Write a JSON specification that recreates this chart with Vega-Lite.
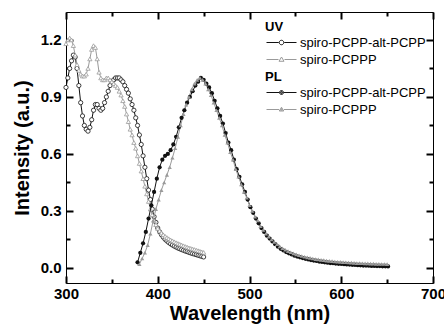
{
"$schema": "https://vega.github.io/schema/vega-lite/v6.json",
"width": 367, "height": 271,
"autosize": {"type": "none"},
"padding": {"left": 66, "top": 12, "right": 11, "bottom": 44},
"background": "white",
"config": {"view": {"stroke": "#000", "strokeWidth": 1}, "font": "Liberation Sans"},
"datasets": {
"uv": [
{"s":"spiro-PCPP-alt-PCPP","w":300,"v":0.95},{"s":"spiro-PCPP-alt-PCPP","w":302,"v":1.0},{"s":"spiro-PCPP-alt-PCPP","w":304,"v":1.05},{"s":"spiro-PCPP-alt-PCPP","w":306,"v":1.09},{"s":"spiro-PCPP-alt-PCPP","w":308,"v":1.12},{"s":"spiro-PCPP-alt-PCPP","w":310,"v":1.11},{"s":"spiro-PCPP-alt-PCPP","w":312,"v":1.05},{"s":"spiro-PCPP-alt-PCPP","w":314,"v":0.96},{"s":"spiro-PCPP-alt-PCPP","w":316,"v":0.87},{"s":"spiro-PCPP-alt-PCPP","w":318,"v":0.8},{"s":"spiro-PCPP-alt-PCPP","w":320,"v":0.75},{"s":"spiro-PCPP-alt-PCPP","w":322,"v":0.73},{"s":"spiro-PCPP-alt-PCPP","w":324,"v":0.72},{"s":"spiro-PCPP-alt-PCPP","w":326,"v":0.74},{"s":"spiro-PCPP-alt-PCPP","w":328,"v":0.78},{"s":"spiro-PCPP-alt-PCPP","w":330,"v":0.83},{"s":"spiro-PCPP-alt-PCPP","w":332,"v":0.86},{"s":"spiro-PCPP-alt-PCPP","w":334,"v":0.86},{"s":"spiro-PCPP-alt-PCPP","w":336,"v":0.84},{"s":"spiro-PCPP-alt-PCPP","w":338,"v":0.83},{"s":"spiro-PCPP-alt-PCPP","w":340,"v":0.84},{"s":"spiro-PCPP-alt-PCPP","w":342,"v":0.87},{"s":"spiro-PCPP-alt-PCPP","w":344,"v":0.9},{"s":"spiro-PCPP-alt-PCPP","w":346,"v":0.93},{"s":"spiro-PCPP-alt-PCPP","w":348,"v":0.96},{"s":"spiro-PCPP-alt-PCPP","w":350,"v":0.98},{"s":"spiro-PCPP-alt-PCPP","w":352,"v":0.99},{"s":"spiro-PCPP-alt-PCPP","w":354,"v":1.0},{"s":"spiro-PCPP-alt-PCPP","w":356,"v":1.0},{"s":"spiro-PCPP-alt-PCPP","w":358,"v":1.0},{"s":"spiro-PCPP-alt-PCPP","w":360,"v":0.99},{"s":"spiro-PCPP-alt-PCPP","w":362,"v":0.98},{"s":"spiro-PCPP-alt-PCPP","w":364,"v":0.96},{"s":"spiro-PCPP-alt-PCPP","w":366,"v":0.94},{"s":"spiro-PCPP-alt-PCPP","w":368,"v":0.92},{"s":"spiro-PCPP-alt-PCPP","w":370,"v":0.89},{"s":"spiro-PCPP-alt-PCPP","w":372,"v":0.86},{"s":"spiro-PCPP-alt-PCPP","w":374,"v":0.83},{"s":"spiro-PCPP-alt-PCPP","w":376,"v":0.79},{"s":"spiro-PCPP-alt-PCPP","w":378,"v":0.75},{"s":"spiro-PCPP-alt-PCPP","w":380,"v":0.7},{"s":"spiro-PCPP-alt-PCPP","w":382,"v":0.65},{"s":"spiro-PCPP-alt-PCPP","w":384,"v":0.59},{"s":"spiro-PCPP-alt-PCPP","w":386,"v":0.53},{"s":"spiro-PCPP-alt-PCPP","w":388,"v":0.47},{"s":"spiro-PCPP-alt-PCPP","w":390,"v":0.41},{"s":"spiro-PCPP-alt-PCPP","w":392,"v":0.36},{"s":"spiro-PCPP-alt-PCPP","w":394,"v":0.31},{"s":"spiro-PCPP-alt-PCPP","w":396,"v":0.27},{"s":"spiro-PCPP-alt-PCPP","w":398,"v":0.24},{"s":"spiro-PCPP-alt-PCPP","w":400,"v":0.21},{"s":"spiro-PCPP-alt-PCPP","w":402,"v":0.19},{"s":"spiro-PCPP-alt-PCPP","w":404,"v":0.175},{"s":"spiro-PCPP-alt-PCPP","w":406,"v":0.162},{"s":"spiro-PCPP-alt-PCPP","w":408,"v":0.151},{"s":"spiro-PCPP-alt-PCPP","w":410,"v":0.142},{"s":"spiro-PCPP-alt-PCPP","w":412,"v":0.134},{"s":"spiro-PCPP-alt-PCPP","w":414,"v":0.127},{"s":"spiro-PCPP-alt-PCPP","w":416,"v":0.121},{"s":"spiro-PCPP-alt-PCPP","w":418,"v":0.115},{"s":"spiro-PCPP-alt-PCPP","w":420,"v":0.11},{"s":"spiro-PCPP-alt-PCPP","w":422,"v":0.105},{"s":"spiro-PCPP-alt-PCPP","w":424,"v":0.101},{"s":"spiro-PCPP-alt-PCPP","w":426,"v":0.097},{"s":"spiro-PCPP-alt-PCPP","w":428,"v":0.093},{"s":"spiro-PCPP-alt-PCPP","w":430,"v":0.089},{"s":"spiro-PCPP-alt-PCPP","w":432,"v":0.086},{"s":"spiro-PCPP-alt-PCPP","w":434,"v":0.082},{"s":"spiro-PCPP-alt-PCPP","w":436,"v":0.079},{"s":"spiro-PCPP-alt-PCPP","w":438,"v":0.076},{"s":"spiro-PCPP-alt-PCPP","w":440,"v":0.073},{"s":"spiro-PCPP-alt-PCPP","w":442,"v":0.07},{"s":"spiro-PCPP-alt-PCPP","w":444,"v":0.067},{"s":"spiro-PCPP-alt-PCPP","w":446,"v":0.064},{"s":"spiro-PCPP-alt-PCPP","w":448,"v":0.061},{"s":"spiro-PCPP-alt-PCPP","w":450,"v":0.058},
{"s":"spiro-PCPPP","w":300,"v":1.18},{"s":"spiro-PCPPP","w":302,"v":1.2},{"s":"spiro-PCPPP","w":304,"v":1.21},{"s":"spiro-PCPPP","w":306,"v":1.2},{"s":"spiro-PCPPP","w":308,"v":1.17},{"s":"spiro-PCPPP","w":310,"v":1.12},{"s":"spiro-PCPPP","w":312,"v":1.07},{"s":"spiro-PCPPP","w":314,"v":1.04},{"s":"spiro-PCPPP","w":316,"v":1.02},{"s":"spiro-PCPPP","w":318,"v":1.01},{"s":"spiro-PCPPP","w":320,"v":1.01},{"s":"spiro-PCPPP","w":322,"v":1.02},{"s":"spiro-PCPPP","w":324,"v":1.05},{"s":"spiro-PCPPP","w":326,"v":1.1},{"s":"spiro-PCPPP","w":328,"v":1.15},{"s":"spiro-PCPPP","w":330,"v":1.17},{"s":"spiro-PCPPP","w":332,"v":1.16},{"s":"spiro-PCPPP","w":334,"v":1.1},{"s":"spiro-PCPPP","w":336,"v":1.03},{"s":"spiro-PCPPP","w":338,"v":1.0},{"s":"spiro-PCPPP","w":340,"v":0.99},{"s":"spiro-PCPPP","w":342,"v":0.99},{"s":"spiro-PCPPP","w":344,"v":1.0},{"s":"spiro-PCPPP","w":346,"v":1.0},{"s":"spiro-PCPPP","w":348,"v":0.99},{"s":"spiro-PCPPP","w":350,"v":0.98},{"s":"spiro-PCPPP","w":352,"v":0.97},{"s":"spiro-PCPPP","w":354,"v":0.96},{"s":"spiro-PCPPP","w":356,"v":0.95},{"s":"spiro-PCPPP","w":358,"v":0.93},{"s":"spiro-PCPPP","w":360,"v":0.91},{"s":"spiro-PCPPP","w":362,"v":0.88},{"s":"spiro-PCPPP","w":364,"v":0.85},{"s":"spiro-PCPPP","w":366,"v":0.81},{"s":"spiro-PCPPP","w":368,"v":0.77},{"s":"spiro-PCPPP","w":370,"v":0.73},{"s":"spiro-PCPPP","w":372,"v":0.7},{"s":"spiro-PCPPP","w":374,"v":0.66},{"s":"spiro-PCPPP","w":376,"v":0.63},{"s":"spiro-PCPPP","w":378,"v":0.59},{"s":"spiro-PCPPP","w":380,"v":0.55},{"s":"spiro-PCPPP","w":382,"v":0.51},{"s":"spiro-PCPPP","w":384,"v":0.47},{"s":"spiro-PCPPP","w":386,"v":0.43},{"s":"spiro-PCPPP","w":388,"v":0.39},{"s":"spiro-PCPPP","w":390,"v":0.35},{"s":"spiro-PCPPP","w":392,"v":0.31},{"s":"spiro-PCPPP","w":394,"v":0.28},{"s":"spiro-PCPPP","w":396,"v":0.25},{"s":"spiro-PCPPP","w":398,"v":0.228},{"s":"spiro-PCPPP","w":400,"v":0.208},{"s":"spiro-PCPPP","w":402,"v":0.195},{"s":"spiro-PCPPP","w":404,"v":0.184},{"s":"spiro-PCPPP","w":406,"v":0.175},{"s":"spiro-PCPPP","w":408,"v":0.167},{"s":"spiro-PCPPP","w":410,"v":0.16},{"s":"spiro-PCPPP","w":412,"v":0.154},{"s":"spiro-PCPPP","w":414,"v":0.148},{"s":"spiro-PCPPP","w":416,"v":0.143},{"s":"spiro-PCPPP","w":418,"v":0.138},{"s":"spiro-PCPPP","w":420,"v":0.133},{"s":"spiro-PCPPP","w":422,"v":0.129},{"s":"spiro-PCPPP","w":424,"v":0.125},{"s":"spiro-PCPPP","w":426,"v":0.121},{"s":"spiro-PCPPP","w":428,"v":0.117},{"s":"spiro-PCPPP","w":430,"v":0.113},{"s":"spiro-PCPPP","w":432,"v":0.11},{"s":"spiro-PCPPP","w":434,"v":0.106},{"s":"spiro-PCPPP","w":436,"v":0.103},{"s":"spiro-PCPPP","w":438,"v":0.1},{"s":"spiro-PCPPP","w":440,"v":0.097},{"s":"spiro-PCPPP","w":442,"v":0.094},{"s":"spiro-PCPPP","w":444,"v":0.091},{"s":"spiro-PCPPP","w":446,"v":0.088},{"s":"spiro-PCPPP","w":448,"v":0.085},{"s":"spiro-PCPPP","w":450,"v":0.082}
],
"pl": [
{"s":"spiro-PCPP-alt-PCPP","w":378,"v":0.03},{"s":"spiro-PCPP-alt-PCPP","w":381,"v":0.08},{"s":"spiro-PCPP-alt-PCPP","w":384,"v":0.13},{"s":"spiro-PCPP-alt-PCPP","w":387,"v":0.19},{"s":"spiro-PCPP-alt-PCPP","w":390,"v":0.26},{"s":"spiro-PCPP-alt-PCPP","w":393,"v":0.33},{"s":"spiro-PCPP-alt-PCPP","w":396,"v":0.4},{"s":"spiro-PCPP-alt-PCPP","w":399,"v":0.47},{"s":"spiro-PCPP-alt-PCPP","w":402,"v":0.53},{"s":"spiro-PCPP-alt-PCPP","w":405,"v":0.57},{"s":"spiro-PCPP-alt-PCPP","w":408,"v":0.59},{"s":"spiro-PCPP-alt-PCPP","w":411,"v":0.6},{"s":"spiro-PCPP-alt-PCPP","w":414,"v":0.62},{"s":"spiro-PCPP-alt-PCPP","w":417,"v":0.65},{"s":"spiro-PCPP-alt-PCPP","w":420,"v":0.69},{"s":"spiro-PCPP-alt-PCPP","w":423,"v":0.74},{"s":"spiro-PCPP-alt-PCPP","w":426,"v":0.79},{"s":"spiro-PCPP-alt-PCPP","w":429,"v":0.83},{"s":"spiro-PCPP-alt-PCPP","w":432,"v":0.87},{"s":"spiro-PCPP-alt-PCPP","w":435,"v":0.9},{"s":"spiro-PCPP-alt-PCPP","w":438,"v":0.93},{"s":"spiro-PCPP-alt-PCPP","w":441,"v":0.96},{"s":"spiro-PCPP-alt-PCPP","w":444,"v":0.98},{"s":"spiro-PCPP-alt-PCPP","w":447,"v":1.0},{"s":"spiro-PCPP-alt-PCPP","w":450,"v":0.99},{"s":"spiro-PCPP-alt-PCPP","w":453,"v":0.97},{"s":"spiro-PCPP-alt-PCPP","w":456,"v":0.95},{"s":"spiro-PCPP-alt-PCPP","w":459,"v":0.92},{"s":"spiro-PCPP-alt-PCPP","w":462,"v":0.88},{"s":"spiro-PCPP-alt-PCPP","w":465,"v":0.84},{"s":"spiro-PCPP-alt-PCPP","w":468,"v":0.8},{"s":"spiro-PCPP-alt-PCPP","w":471,"v":0.76},{"s":"spiro-PCPP-alt-PCPP","w":474,"v":0.71},{"s":"spiro-PCPP-alt-PCPP","w":477,"v":0.66},{"s":"spiro-PCPP-alt-PCPP","w":480,"v":0.62},{"s":"spiro-PCPP-alt-PCPP","w":483,"v":0.57},{"s":"spiro-PCPP-alt-PCPP","w":486,"v":0.52},{"s":"spiro-PCPP-alt-PCPP","w":489,"v":0.48},{"s":"spiro-PCPP-alt-PCPP","w":492,"v":0.44},{"s":"spiro-PCPP-alt-PCPP","w":495,"v":0.4},{"s":"spiro-PCPP-alt-PCPP","w":498,"v":0.36},{"s":"spiro-PCPP-alt-PCPP","w":501,"v":0.32},{"s":"spiro-PCPP-alt-PCPP","w":504,"v":0.29},{"s":"spiro-PCPP-alt-PCPP","w":507,"v":0.26},{"s":"spiro-PCPP-alt-PCPP","w":510,"v":0.235},{"s":"spiro-PCPP-alt-PCPP","w":513,"v":0.21},{"s":"spiro-PCPP-alt-PCPP","w":516,"v":0.19},{"s":"spiro-PCPP-alt-PCPP","w":519,"v":0.17},{"s":"spiro-PCPP-alt-PCPP","w":522,"v":0.155},{"s":"spiro-PCPP-alt-PCPP","w":525,"v":0.14},{"s":"spiro-PCPP-alt-PCPP","w":528,"v":0.125},{"s":"spiro-PCPP-alt-PCPP","w":531,"v":0.112},{"s":"spiro-PCPP-alt-PCPP","w":534,"v":0.101},{"s":"spiro-PCPP-alt-PCPP","w":537,"v":0.092},{"s":"spiro-PCPP-alt-PCPP","w":540,"v":0.084},{"s":"spiro-PCPP-alt-PCPP","w":543,"v":0.077},{"s":"spiro-PCPP-alt-PCPP","w":546,"v":0.071},{"s":"spiro-PCPP-alt-PCPP","w":549,"v":0.065},{"s":"spiro-PCPP-alt-PCPP","w":552,"v":0.06},{"s":"spiro-PCPP-alt-PCPP","w":555,"v":0.056},{"s":"spiro-PCPP-alt-PCPP","w":558,"v":0.052},{"s":"spiro-PCPP-alt-PCPP","w":561,"v":0.048},{"s":"spiro-PCPP-alt-PCPP","w":564,"v":0.045},{"s":"spiro-PCPP-alt-PCPP","w":567,"v":0.042},{"s":"spiro-PCPP-alt-PCPP","w":570,"v":0.039},{"s":"spiro-PCPP-alt-PCPP","w":573,"v":0.037},{"s":"spiro-PCPP-alt-PCPP","w":576,"v":0.034},{"s":"spiro-PCPP-alt-PCPP","w":579,"v":0.032},{"s":"spiro-PCPP-alt-PCPP","w":582,"v":0.03},{"s":"spiro-PCPP-alt-PCPP","w":585,"v":0.028},{"s":"spiro-PCPP-alt-PCPP","w":588,"v":0.026},{"s":"spiro-PCPP-alt-PCPP","w":591,"v":0.025},{"s":"spiro-PCPP-alt-PCPP","w":594,"v":0.023},{"s":"spiro-PCPP-alt-PCPP","w":597,"v":0.022},{"s":"spiro-PCPP-alt-PCPP","w":600,"v":0.021},{"s":"spiro-PCPP-alt-PCPP","w":603,"v":0.02},{"s":"spiro-PCPP-alt-PCPP","w":606,"v":0.019},{"s":"spiro-PCPP-alt-PCPP","w":609,"v":0.018},{"s":"spiro-PCPP-alt-PCPP","w":612,"v":0.017},{"s":"spiro-PCPP-alt-PCPP","w":615,"v":0.016},{"s":"spiro-PCPP-alt-PCPP","w":618,"v":0.015},{"s":"spiro-PCPP-alt-PCPP","w":621,"v":0.014},{"s":"spiro-PCPP-alt-PCPP","w":624,"v":0.013},{"s":"spiro-PCPP-alt-PCPP","w":627,"v":0.013},{"s":"spiro-PCPP-alt-PCPP","w":630,"v":0.012},{"s":"spiro-PCPP-alt-PCPP","w":633,"v":0.011},{"s":"spiro-PCPP-alt-PCPP","w":636,"v":0.011},{"s":"spiro-PCPP-alt-PCPP","w":639,"v":0.01},{"s":"spiro-PCPP-alt-PCPP","w":642,"v":0.01},{"s":"spiro-PCPP-alt-PCPP","w":645,"v":0.009},{"s":"spiro-PCPP-alt-PCPP","w":648,"v":0.009},{"s":"spiro-PCPP-alt-PCPP","w":651,"v":0.008},
{"s":"spiro-PCPPP","w":380,"v":0.02},{"s":"spiro-PCPPP","w":383,"v":0.05},{"s":"spiro-PCPPP","w":386,"v":0.08},{"s":"spiro-PCPPP","w":389,"v":0.12},{"s":"spiro-PCPPP","w":392,"v":0.18},{"s":"spiro-PCPPP","w":395,"v":0.25},{"s":"spiro-PCPPP","w":398,"v":0.31},{"s":"spiro-PCPPP","w":401,"v":0.36},{"s":"spiro-PCPPP","w":404,"v":0.41},{"s":"spiro-PCPPP","w":407,"v":0.45},{"s":"spiro-PCPPP","w":410,"v":0.49},{"s":"spiro-PCPPP","w":413,"v":0.53},{"s":"spiro-PCPPP","w":416,"v":0.58},{"s":"spiro-PCPPP","w":419,"v":0.63},{"s":"spiro-PCPPP","w":422,"v":0.69},{"s":"spiro-PCPPP","w":425,"v":0.75},{"s":"spiro-PCPPP","w":428,"v":0.81},{"s":"spiro-PCPPP","w":431,"v":0.86},{"s":"spiro-PCPPP","w":434,"v":0.9},{"s":"spiro-PCPPP","w":437,"v":0.94},{"s":"spiro-PCPPP","w":440,"v":0.97},{"s":"spiro-PCPPP","w":443,"v":0.99},{"s":"spiro-PCPPP","w":446,"v":1.0},{"s":"spiro-PCPPP","w":449,"v":0.99},{"s":"spiro-PCPPP","w":452,"v":0.97},{"s":"spiro-PCPPP","w":455,"v":0.94},{"s":"spiro-PCPPP","w":458,"v":0.91},{"s":"spiro-PCPPP","w":461,"v":0.87},{"s":"spiro-PCPPP","w":464,"v":0.83},{"s":"spiro-PCPPP","w":467,"v":0.79},{"s":"spiro-PCPPP","w":470,"v":0.75},{"s":"spiro-PCPPP","w":473,"v":0.7},{"s":"spiro-PCPPP","w":476,"v":0.66},{"s":"spiro-PCPPP","w":479,"v":0.61},{"s":"spiro-PCPPP","w":482,"v":0.57},{"s":"spiro-PCPPP","w":485,"v":0.52},{"s":"spiro-PCPPP","w":488,"v":0.48},{"s":"spiro-PCPPP","w":491,"v":0.44},{"s":"spiro-PCPPP","w":494,"v":0.4},{"s":"spiro-PCPPP","w":497,"v":0.37},{"s":"spiro-PCPPP","w":500,"v":0.33},{"s":"spiro-PCPPP","w":503,"v":0.3},{"s":"spiro-PCPPP","w":506,"v":0.27},{"s":"spiro-PCPPP","w":509,"v":0.25},{"s":"spiro-PCPPP","w":512,"v":0.22},{"s":"spiro-PCPPP","w":515,"v":0.2},{"s":"spiro-PCPPP","w":518,"v":0.18},{"s":"spiro-PCPPP","w":521,"v":0.165},{"s":"spiro-PCPPP","w":524,"v":0.15},{"s":"spiro-PCPPP","w":527,"v":0.137},{"s":"spiro-PCPPP","w":530,"v":0.125},{"s":"spiro-PCPPP","w":533,"v":0.114},{"s":"spiro-PCPPP","w":536,"v":0.104},{"s":"spiro-PCPPP","w":539,"v":0.096},{"s":"spiro-PCPPP","w":542,"v":0.089},{"s":"spiro-PCPPP","w":545,"v":0.083},{"s":"spiro-PCPPP","w":548,"v":0.077},{"s":"spiro-PCPPP","w":551,"v":0.072},{"s":"spiro-PCPPP","w":554,"v":0.067},{"s":"spiro-PCPPP","w":557,"v":0.063},{"s":"spiro-PCPPP","w":560,"v":0.059},{"s":"spiro-PCPPP","w":563,"v":0.056},{"s":"spiro-PCPPP","w":566,"v":0.053},{"s":"spiro-PCPPP","w":569,"v":0.05},{"s":"spiro-PCPPP","w":572,"v":0.047},{"s":"spiro-PCPPP","w":575,"v":0.045},{"s":"spiro-PCPPP","w":578,"v":0.043},{"s":"spiro-PCPPP","w":581,"v":0.041},{"s":"spiro-PCPPP","w":584,"v":0.039},{"s":"spiro-PCPPP","w":587,"v":0.037},{"s":"spiro-PCPPP","w":590,"v":0.036},{"s":"spiro-PCPPP","w":593,"v":0.034},{"s":"spiro-PCPPP","w":596,"v":0.033},{"s":"spiro-PCPPP","w":599,"v":0.032},{"s":"spiro-PCPPP","w":602,"v":0.031},{"s":"spiro-PCPPP","w":605,"v":0.03},{"s":"spiro-PCPPP","w":608,"v":0.029},{"s":"spiro-PCPPP","w":611,"v":0.028},{"s":"spiro-PCPPP","w":614,"v":0.027},{"s":"spiro-PCPPP","w":617,"v":0.026},{"s":"spiro-PCPPP","w":620,"v":0.026},{"s":"spiro-PCPPP","w":623,"v":0.025},{"s":"spiro-PCPPP","w":626,"v":0.024},{"s":"spiro-PCPPP","w":629,"v":0.024},{"s":"spiro-PCPPP","w":632,"v":0.023},{"s":"spiro-PCPPP","w":635,"v":0.023},{"s":"spiro-PCPPP","w":638,"v":0.022},{"s":"spiro-PCPPP","w":641,"v":0.022},{"s":"spiro-PCPPP","w":644,"v":0.021},{"s":"spiro-PCPPP","w":647,"v":0.021},{"s":"spiro-PCPPP","w":650,"v":0.02}
]
},
"layer": [
{
"data": {"name": "uv"},
"encoding": {
"x": {"field": "w", "type": "quantitative", "scale": {"domain": [300, 700], "nice": false, "zero": false},
 "axis": {"orient": "bottom", "values": [300,400,500,600,700], "offset": -7, "tickSize": 7, "tickWidth": 2, "tickColor": "black", "domain": false, "grid": false, "labelFont": "Liberation Sans", "labelFontSize": 15, "labelFontWeight": "bold", "labelColor": "#000", "labelPadding": 3, "labelFlush": false, "labelOverlap": false, "title": "Wavelength (nm)", "titleFont": "Liberation Sans", "titleFontSize": 20, "titleFontWeight": "bold", "titleColor": "#000", "titlePadding": 2}},
"y": {"field": "v", "type": "quantitative", "scale": {"domain": [-0.079, 1.347], "nice": false, "zero": false},
 "axis": {"orient": "left", "values": [0,0.3,0.6,0.9,1.2], "format": ".1f", "offset": -7, "tickSize": 7, "tickWidth": 2, "tickColor": "black", "domain": false, "grid": false, "labelFont": "Liberation Sans", "labelFontSize": 15, "labelFontWeight": "bold", "labelColor": "#000", "labelPadding": 5, "labelFlush": false, "labelOverlap": false, "title": "Intensity (a.u.)", "titleFont": "Liberation Sans", "titleFontSize": 20, "titleFontWeight": "bold", "titleColor": "#000", "titlePadding": 8}},
"color": {"field": "s", "type": "nominal", "scale": {"domain": ["spiro-PCPP-alt-PCPP", "spiro-PCPPP"], "range": ["#111111", "#9a9a9a"]}, "legend": null}
},
"layer": [
{"mark": {"type": "line", "strokeWidth": 1}},
{"mark": {"type": "point", "filled": false, "fill": "white", "size": 18, "strokeWidth": 0.8, "opacity": 1},
 "encoding": {"shape": {"field": "s", "type": "nominal", "scale": {"domain": ["spiro-PCPP-alt-PCPP", "spiro-PCPPP"], "range": ["circle", "triangle-up"]}, "legend": null}}}
]
},
{
"data": {"name": "pl"},
"encoding": {
"x": {"field": "w", "type": "quantitative", "scale": {"domain": [300, 700], "nice": false, "zero": false},
 "axis": {"orient": "top", "values": [300,400,500,600,700], "labels": false, "offset": -7, "tickSize": 7, "tickWidth": 2, "tickColor": "black", "domain": false, "grid": false, "title": null}},
"y": {"field": "v", "type": "quantitative", "scale": {"domain": [-0.079, 1.347], "nice": false, "zero": false},
 "axis": {"orient": "right", "values": [0,0.3,0.6,0.9,1.2], "labels": false, "offset": -7, "tickSize": 7, "tickWidth": 2, "tickColor": "black", "domain": false, "grid": false, "title": null}},
"color": {"field": "s", "type": "nominal", "scale": {"domain": ["spiro-PCPP-alt-PCPP", "spiro-PCPPP"], "range": ["#111111", "#9a9a9a"]}, "legend": null}
},
"layer": [
{"mark": {"type": "line", "strokeWidth": 1}},
{"mark": {"type": "point", "filled": true, "size": 18, "opacity": 1},
 "encoding": {"shape": {"field": "s", "type": "nominal", "scale": {"domain": ["spiro-PCPP-alt-PCPP", "spiro-PCPPP"], "range": ["circle", "triangle-up"]}, "legend": null}}}
]
},
{
"data": {"name": "uv"},
"transform": [{"filter": "false"}],
"mark": {"type": "point", "filled": false, "fill": "white", "size": 100, "strokeWidth": 1, "opacity": 1},
"encoding": {
"x": {"field": "w", "type": "quantitative", "scale": {"domain": [300, 700], "nice": false, "zero": false},
 "axis": {"orient": "bottom", "values": [350,450,550,650], "labels": false, "offset": -4, "tickSize": 4, "tickWidth": 2, "tickColor": "black", "domain": false, "grid": false, "title": null}},
"y": {"field": "v", "type": "quantitative", "scale": {"domain": [-0.079, 1.347], "nice": false, "zero": false},
 "axis": {"orient": "left", "values": [0.15,0.45,0.75,1.05], "labels": false, "offset": -4, "tickSize": 4, "tickWidth": 2, "tickColor": "black", "domain": false, "grid": false, "title": null}},
"color": {"field": "s", "type": "nominal", "scale": {"domain": ["spiro-PCPP-alt-PCPP", "spiro-PCPPP"], "range": ["#111111", "#9a9a9a"]},
 "legend": {"orient": "none", "legendX": 199, "legendY": 9, "title": "UV", "titleFont": "Liberation Sans", "titleFontSize": 13, "titleFontWeight": "bold", "titleColor": "#000", "titlePadding": 2, "labelFont": "Liberation Sans", "labelFontSize": 13, "labelColor": "#000", "labelOffset": 12, "symbolOffset": 10, "symbolSize": 100, "symbolStrokeWidth": 1, "rowPadding": 3, "padding": 0}},
"shape": {"field": "s", "type": "nominal", "scale": {"domain": ["spiro-PCPP-alt-PCPP", "spiro-PCPPP"], "range": ["M-3,0H-0.55M0.55,0H3M-0.45,0A0.45,0.45,0,1,1,0.45,0A0.45,0.45,0,1,1,-0.45,0Z", "M-3,0H-0.6M0.6,0H3M0,-0.5L0.5,0.35L-0.5,0.35Z"]},
 "legend": {"orient": "none", "legendX": 199, "legendY": 9, "title": "UV", "titleFont": "Liberation Sans", "titleFontSize": 13, "titleFontWeight": "bold", "titleColor": "#000", "titlePadding": 2, "labelFont": "Liberation Sans", "labelFontSize": 13, "labelColor": "#000", "labelOffset": 12, "symbolOffset": 10, "symbolSize": 100, "symbolStrokeWidth": 1, "rowPadding": 3, "padding": 0}}
}
},
{
"data": {"name": "pl"},
"transform": [{"filter": "false"}],
"mark": {"type": "point", "filled": false, "fill": "transparent", "size": 100, "strokeWidth": 1, "opacity": 1},
"encoding": {
"x": {"field": "w", "type": "quantitative", "scale": {"domain": [300, 700], "nice": false, "zero": false},
 "axis": {"orient": "top", "values": [350,450,550,650], "labels": false, "offset": -4, "tickSize": 4, "tickWidth": 2, "tickColor": "black", "domain": false, "grid": false, "title": null}},
"y": {"field": "v", "type": "quantitative", "scale": {"domain": [-0.079, 1.347], "nice": false, "zero": false},
 "axis": {"orient": "right", "values": [0.15,0.45,0.75,1.05], "labels": false, "offset": -4, "tickSize": 4, "tickWidth": 2, "tickColor": "black", "domain": false, "grid": false, "title": null}},
"color": {"field": "s", "type": "nominal", "scale": {"domain": ["spiro-PCPP-alt-PCPP", "spiro-PCPPP"], "range": ["#111111", "#9a9a9a"]},
 "legend": {"orient": "none", "legendX": 199, "legendY": 59, "title": "PL", "titleFont": "Liberation Sans", "titleFontSize": 13, "titleFontWeight": "bold", "titleColor": "#000", "titlePadding": 2, "labelFont": "Liberation Sans", "labelFontSize": 13, "labelColor": "#000", "labelOffset": 12, "symbolOffset": 10, "symbolSize": 100, "symbolStrokeWidth": 1, "rowPadding": 3, "padding": 0}},
"shape": {"field": "s", "type": "nominal", "scale": {"domain": ["spiro-PCPP-alt-PCPP", "spiro-PCPPP"], "range": ["M-3,0H-0.45M0.45,0H3M-0.4,0A0.4,0.4,0,1,1,0.4,0A0.4,0.4,0,1,1,-0.4,0ZM-0.2,0A0.2,0.2,0,1,1,0.2,0A0.2,0.2,0,1,1,-0.2,0ZM-0.06,0H0.06", "M-3,0H-0.5M0.5,0H3M0,-0.45L0.45,0.3L-0.45,0.3ZM0,-0.2L0.2,0.15L-0.2,0.15ZM0,-0.02V0.05"]},
 "legend": {"orient": "none", "legendX": 199, "legendY": 59, "title": "PL", "titleFont": "Liberation Sans", "titleFontSize": 13, "titleFontWeight": "bold", "titleColor": "#000", "titlePadding": 2, "labelFont": "Liberation Sans", "labelFontSize": 13, "labelColor": "#000", "labelOffset": 12, "symbolOffset": 10, "symbolSize": 100, "symbolStrokeWidth": 1, "rowPadding": 3, "padding": 0}}
}
}
],
"resolve": {"scale": {"color": "independent", "shape": "independent"}, "axis": {"x": "independent", "y": "independent"}}
}
